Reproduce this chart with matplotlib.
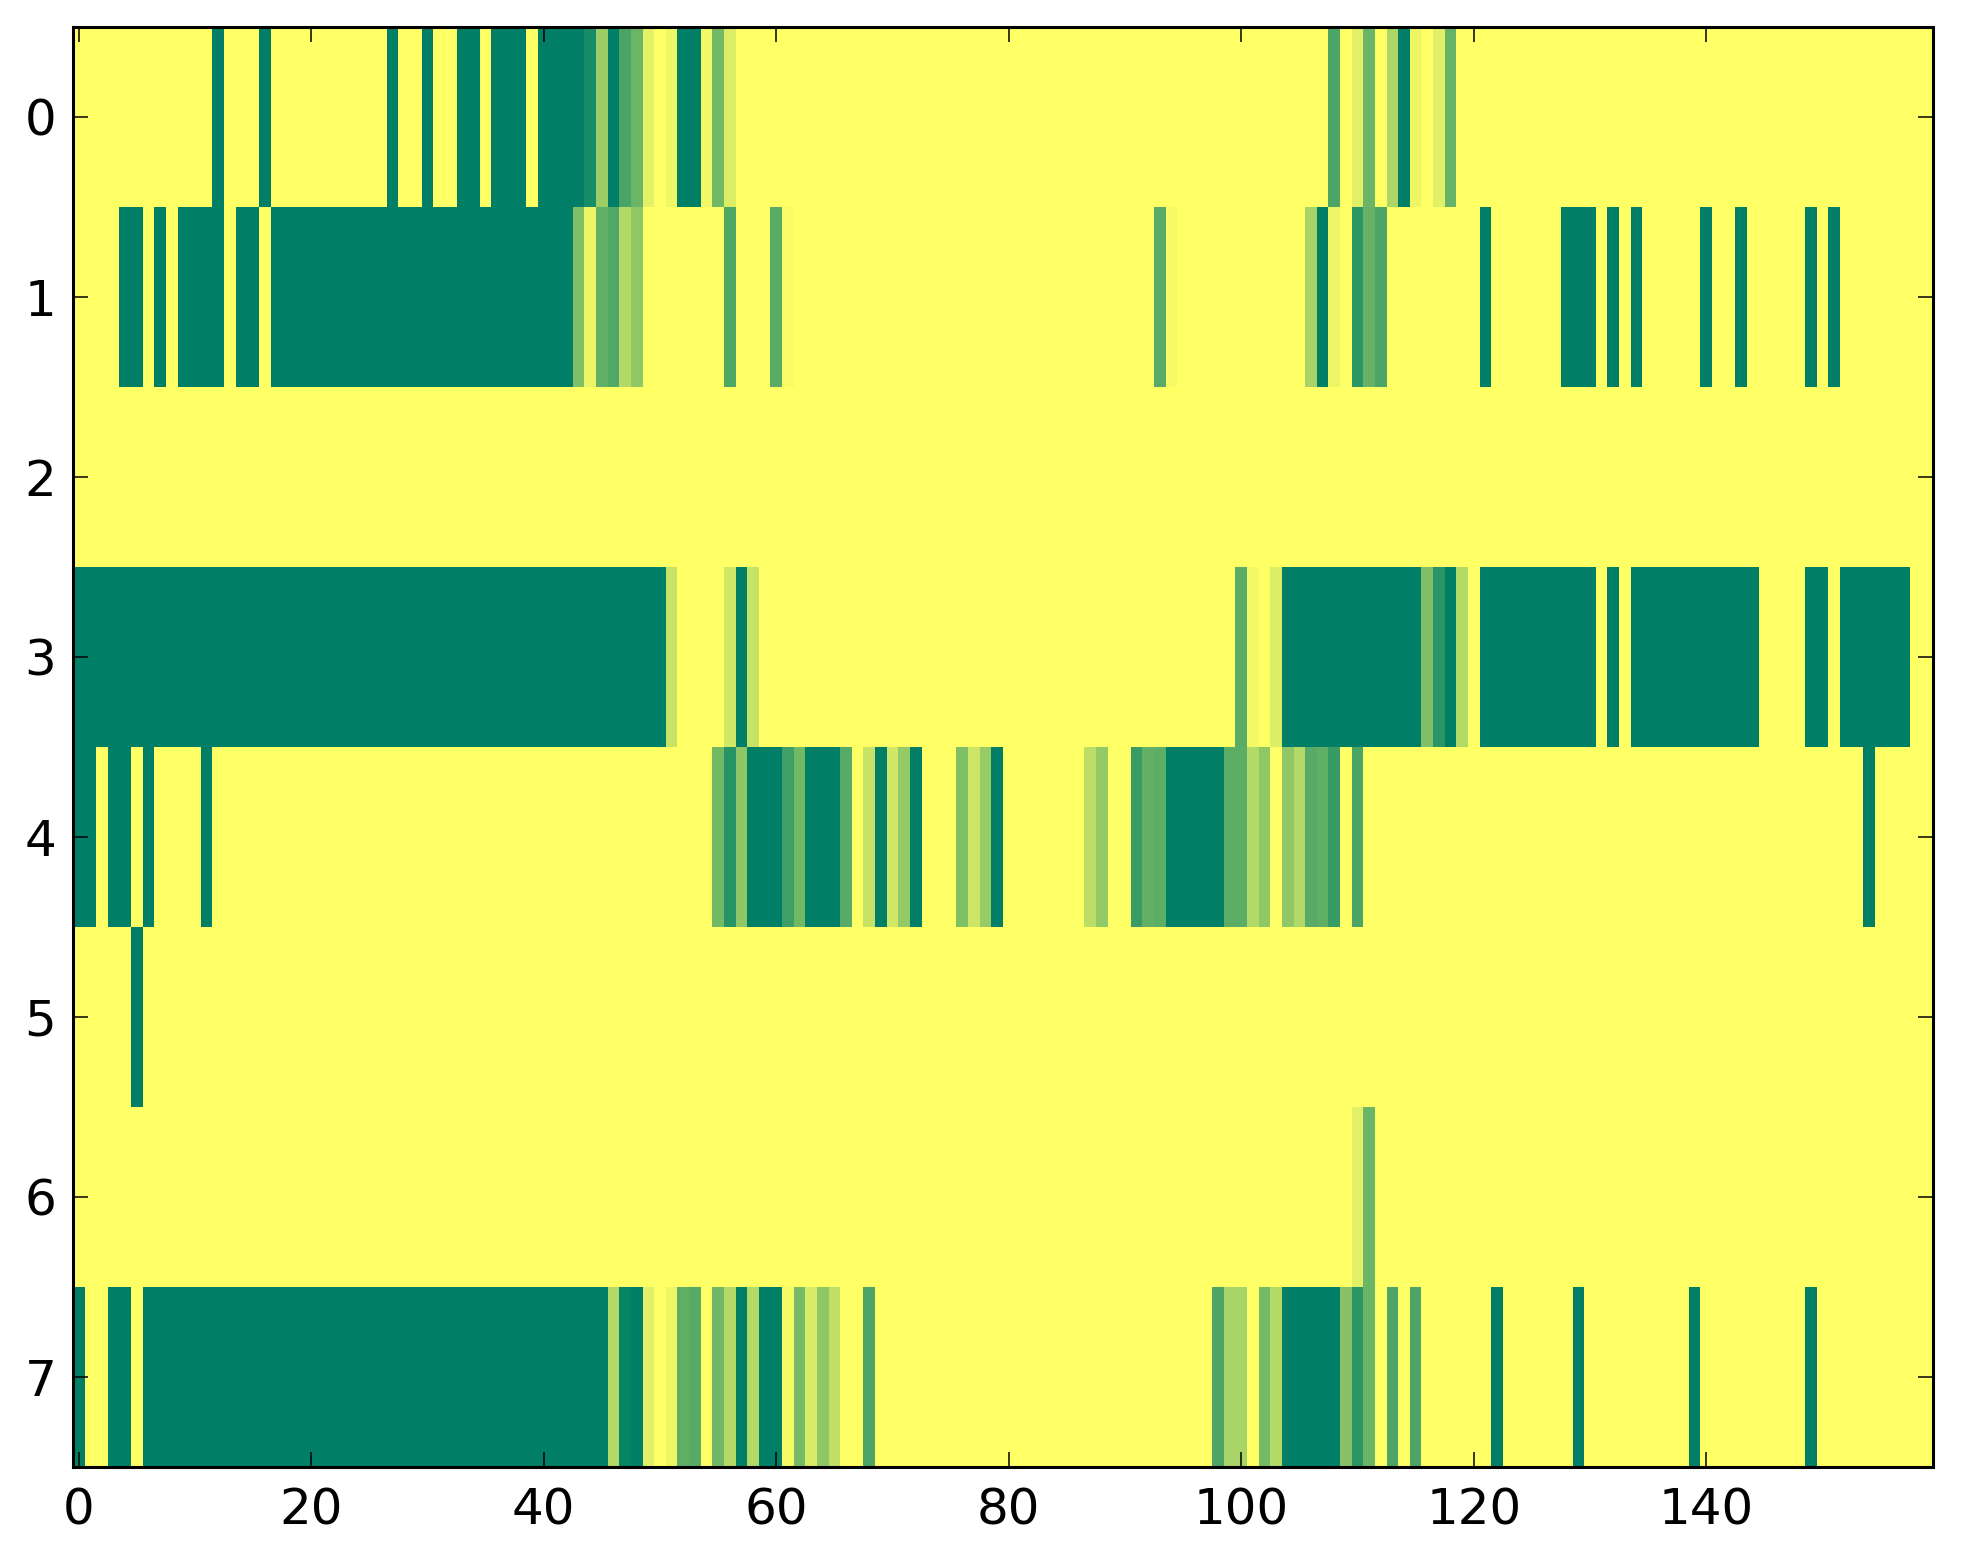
import numpy as np
import matplotlib
matplotlib.use("Agg")
import matplotlib.pyplot as plt
from matplotlib.ticker import MultipleLocator

n_cols = 160
n_rows = 8

# cells: full-dark cells (value 1) as column lists / runs,
# partially filled cells as {column: value}
row0_dark = [12, 16, 27, 30, 33, 34, 36, 37, 38, 40, 41, 42, 43, 46, 52, 53, 114]
row0_part = {44: 0.9, 45: 0.39, 47: 0.71, 48: 0.58, 49: 0.11, 51: 0.06, 54: 0.05,
             55: 0.55, 56: 0.14, 108: 0.7, 110: 0.12, 111: 0.58, 113: 0.32,
             115: 0.07, 117: 0.12, 118: 0.6}

row1_dark = [4, 5, 7, 9, 10, 11, 12, 14, 15] + list(range(17, 43)) + \
            [107, 121, 128, 129, 130, 132, 134, 140, 143, 149, 151]
row1_part = {43: 0.5, 44: 0.08, 45: 0.62, 46: 0.68, 47: 0.3, 48: 0.43, 56: 0.69,
             60: 0.65, 61: 0.03, 93: 0.66, 94: 0.04, 106: 0.34, 108: 0.07,
             110: 0.83, 111: 0.6, 112: 0.7}

row2_dark = []
row2_part = {}

row3_dark = list(range(0, 51)) + [57] + list(range(104, 116)) + [118] + \
            list(range(121, 131)) + [132] + list(range(134, 145)) + [149, 150] + \
            list(range(152, 158))
row3_part = {51: 0.22, 56: 0.18, 58: 0.22, 100: 0.65, 101: 0.05, 103: 0.14,
             116: 0.5, 117: 0.83, 119: 0.3}

row4_dark = [0, 1, 3, 4, 6, 11, 58, 59, 60, 63, 64, 65, 69, 72, 79,
             94, 95, 96, 97, 98, 154]
row4_part = {55: 0.55, 56: 0.84, 57: 0.44, 61: 0.75, 62: 0.55, 66: 0.66, 68: 0.22,
             70: 0.18, 71: 0.42, 76: 0.5, 77: 0.2, 78: 0.41, 87: 0.26, 88: 0.42,
             91: 0.77, 92: 0.62, 93: 0.64, 99: 0.64, 100: 0.64, 101: 0.3,
             102: 0.44, 104: 0.44, 105: 0.3, 106: 0.66, 107: 0.63, 108: 0.78,
             110: 0.71}

row5_dark = [5]
row5_part = {}

row6_dark = []
row6_part = {110: 0.12, 111: 0.58}

row7_dark = [0, 3, 4] + list(range(6, 46)) + [48, 57, 59, 60, 104, 105, 106, 107,
                                              108, 122, 129, 139, 149]
row7_part = {46: 0.3, 47: 0.97, 49: 0.12, 51: 0.07, 52: 0.63, 53: 0.66, 55: 0.56,
             56: 0.3, 58: 0.3, 61: 0.04, 62: 0.54, 63: 0.16, 64: 0.44, 65: 0.25,
             68: 0.7, 98: 0.7, 99: 0.34, 100: 0.34, 102: 0.54, 103: 0.3,
             109: 0.47, 110: 0.83, 111: 0.58, 113: 0.7, 115: 0.7}

rows_dark = [row0_dark, row1_dark, row2_dark, row3_dark,
             row4_dark, row5_dark, row6_dark, row7_dark]
rows_part = [row0_part, row1_part, row2_part, row3_part,
             row4_part, row5_part, row6_part, row7_part]

grid = np.zeros((n_rows, n_cols))
for r in range(n_rows):
    grid[r, rows_dark[r]] = 1.0
    for c, v in rows_part[r].items():
        grid[r, c] = v

fig = plt.figure(figsize=(19.63, 15.64), dpi=100)
ax = fig.add_axes([73 / 1963, 1 - 1467 / 1564, (1933 - 73) / 1963, (1467 - 27) / 1564])

ax.imshow(grid, cmap='summer_r', vmin=0, vmax=1, aspect='auto',
          interpolation='nearest')

ax.xaxis.set_major_locator(MultipleLocator(20))
ax.yaxis.set_major_locator(MultipleLocator(1))
ax.set_xlim(-0.5, n_cols - 0.5)
ax.set_ylim(n_rows - 0.5, -0.5)

ax.tick_params(direction='in', top=True, right=True, length=11, width=1.1,
               labelsize=36)
ax.tick_params(axis='x', pad=14)
ax.tick_params(axis='y', pad=12)
for s in ax.spines.values():
    s.set_linewidth(2.2)

plt.savefig('out.png', dpi=100)
plt.close()
